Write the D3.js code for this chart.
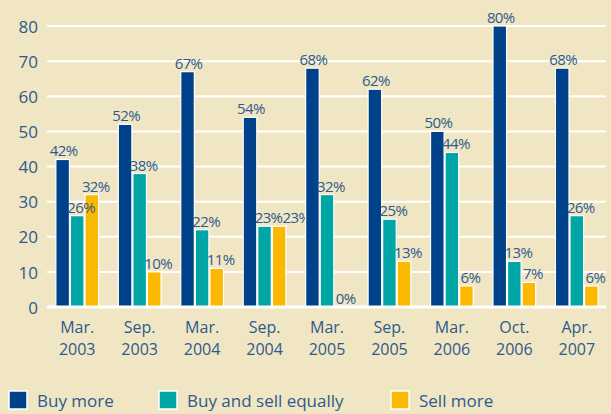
<!DOCTYPE html>
<html>
<head>
<meta charset="utf-8">
<script src="https://cdn.jsdelivr.net/npm/d3@7"></script>
<style>
  body { margin: 0; background: #f0e6c4; }
  svg { display: block; font-family: "Open Sans", sans-serif; }
  .tick text, .lbl, .legend text { fill: #2d5a8c; }
</style>
</head>
<body>
<svg width="611" height="414"></svg>
<script>
// data
let periods = [["Mar.", "2003"], ["Sep.", "2003"], ["Mar.", "2004"], ["Sep.", "2004"], ["Mar.", "2005"],
  ["Sep.", "2005"], ["Mar.", "2006"], ["Oct.", "2006"], ["Apr.", "2007"]];
let seriesNames = ["Buy more", "Buy and sell equally", "Sell more"];
let buyMore = [42, 52, 67, 54, 68, 62, 50, 80, 68];
let buySellEqually = [26, 38, 22, 23, 32, 25, 44, 13, 26];
let sellMore = [32, 10, 11, 23, 0, 13, 6, 7, 6];
let yTicks = [0, 10, 20, 30, 40, 50, 60, 70, 80];

let colors = ["#00428a", "#00a5a6", "#fbb800"];
let series = [buyMore, buySellEqually, sellMore];

let svg = d3.select("svg");
let yRng = [307, 26];
let xRng = [46, 608];

let xScale = d3.scaleBand().domain(d3.range(periods.length)).range(xRng).paddingInner(0.3).paddingOuter(0.15);
let inner = d3.scaleBand().domain(d3.range(series.length)).range([0, xScale.bandwidth()]);
let yScale = d3.scaleLinear().domain([0, 80]).range(yRng);

// grid
svg.append("g")
  .selectAll("line")
  .data(yTicks.slice(1))
  .enter()
  .append("line")
  .attr("x1", 47).attr("x2", 606)
  .attr("y1", (d) => yScale(d)).attr("y2", (d) => yScale(d))
  .attr("stroke", "#fff").attr("stroke-width", 2);

// y axis labels
let yAxis = svg.append("g")
  .attr("transform", `translate(${38},0)`)
  .call(d3.axisLeft(yScale).tickValues(yTicks).tickSize(0).tickPadding(0));
yAxis.select(".domain").remove();
yAxis.selectAll("text").attr("font-size", "17px").attr("dy", "0.36em").attr("font-family", "Open Sans");

// bars
let groups = svg.append("g")
  .selectAll("g")
  .data(periods.map((p, i) => i))
  .enter()
  .append("g")
  .attr("transform", (i) => `translate(${xScale(i)},0)`);

groups.selectAll("rect")
  .data((i) => series.map((s, j) => ({ j: j, v: s[i] })))
  .enter()
  .filter((d) => d.v > 0)
  .append("rect")
  .attr("x", (d) => inner(d.j) + 0.5)
  .attr("width", inner.bandwidth() - 1)
  .attr("y", (d) => yScale(d.v))
  .attr("height", (d) => yScale(0) - yScale(d.v))
  .attr("fill", (d) => colors[d.j])
  .attr("stroke", "#fff")
  .attr("stroke-width", 1.2);

// value labels, nudged right when they would collide with the previous one
groups.each(function (i) {
  let g = d3.select(this);
  let prev = null;
  series.forEach((s, j) => {
    let v = s[i];
    let t = g.append("text")
      .attr("class", "lbl")
      .attr("font-size", "15px")
      .attr("letter-spacing", "-0.6px")
      .attr("text-anchor", "middle")
      .attr("y", yScale(v) - 3)
      .text(v + "%");
    let cx = inner(j) + inner.bandwidth() / 2 + (j === 0 ? 1 : 4);
    let w = t.node().getComputedTextLength();
    let y = yScale(v) - 3;
    if (prev && Math.abs(prev.y - y) < 15 && cx - w / 2 < prev.right) {
      cx = prev.right + w / 2;
    }
    t.attr("x", cx);
    prev = { right: cx + w / 2, y: y };
  });
});

// baseline
svg.append("line")
  .attr("x1", 47).attr("x2", 606)
  .attr("y1", yScale(0)).attr("y2", yScale(0))
  .attr("stroke", "#fff").attr("stroke-width", 3);

// x labels, two lines each
let xLab = svg.append("g")
  .selectAll("g")
  .data(periods)
  .enter()
  .append("g")
  .attr("transform", (d, i) => `translate(${xScale(i) + xScale.bandwidth() / 2},0)`);
xLab.append("text").attr("class", "lbl").attr("text-anchor", "middle").attr("font-size", "16px")
  .attr("y", 333).text((d) => d[0]);
xLab.append("text").attr("class", "lbl").attr("text-anchor", "middle").attr("font-size", "16px")
  .attr("y", 355).text((d) => d[1]);

// legend
let legendX = [9, 159, 391];
let legend = svg.append("g")
  .attr("class", "legend")
  .selectAll("g")
  .data(seriesNames)
  .enter()
  .append("g")
  .attr("transform", (d, i) => `translate(${legendX[i]},391)`);
legend.append("rect")
  .attr("width", 18).attr("height", 18)
  .attr("fill", (d, i) => colors[i])
  .attr("stroke", "#fff").attr("stroke-width", 1.5);
legend.append("text")
  .attr("x", 28).attr("y", 16)
  .attr("font-size", "17px")
  .text((d) => d);
</script>
</body>
</html>
